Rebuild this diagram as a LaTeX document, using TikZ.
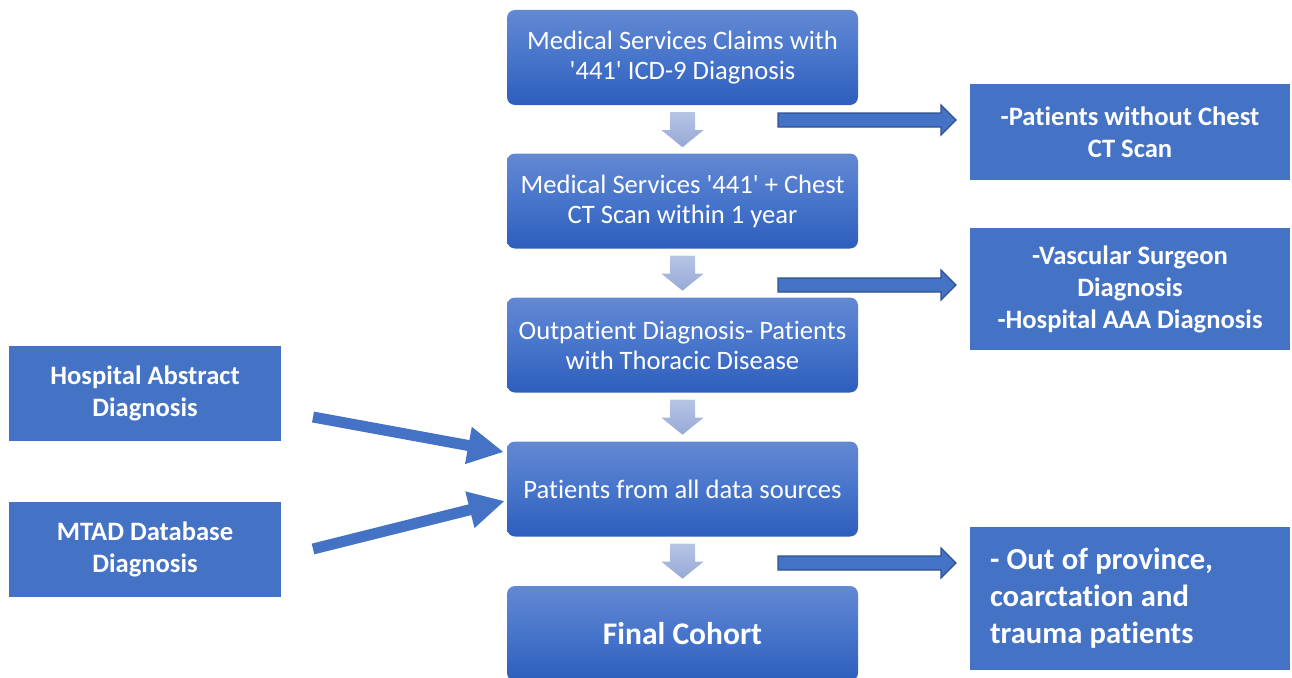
\documentclass[tikz,border=0pt]{standalone}
\usepackage{fontspec}
\setmainfont{Carlito}[Ligatures=NoCommon]
\usetikzlibrary{arrows.meta,calc}

\definecolor{flatblue}{HTML}{4472C4}
\definecolor{edgeblue}{HTML}{2F528F}
\definecolor{stepTop}{HTML}{6388D3}
\definecolor{stepMid}{HTML}{4775CB}
\definecolor{stepBot}{HTML}{2E5EBD}
\definecolor{chevTop}{HTML}{B6C4E5}
\definecolor{chevBot}{HTML}{97A8D6}

\newcommand{\tightspaces}{\spaceskip=0.24em\relax}

\begin{document}
\begin{tikzpicture}[x=1pt,y=-1pt,
  stepbox/.style={rounded corners=8pt, top color=stepTop, bottom color=stepBot,
    middle color=stepMid, minimum width=351pt, minimum height=95pt,
    text=white, align=center, inner sep=0pt,
    font=\fontsize{26.6}{30}\selectfont},
  sidebox/.style={fill=flatblue, minimum width=320pt, text=white, align=center,
    inner sep=0pt, font=\bfseries\fontsize{26.6}{32}\selectfont},
  srcbox/.style={fill=flatblue, minimum width=272pt, minimum height=95pt,
    text=white, align=center, inner sep=0pt,
    font=\bfseries\fontsize{26.6}{32}\selectfont},
  fatarrow/.style={draw=flatblue, line width=11pt,
    -{Triangle[length=36pt,width=35pt]}},
  downchev/.pic={
    \path[top color=chevTop, bottom color=chevBot]
      (-12.5,0) -- (12.5,0) -- (12.5,18) -- (21,18) -- (0,35)
      -- (-21,18) -- (-12.5,18) -- cycle;
  },
  blockright/.pic={
    \draw[fill=flatblue, draw=edgeblue, line width=1.3pt, line join=miter]
      (0,-7) -- (163,-7) -- (163,-15) -- (178,0) -- (163,15)
      -- (163,7) -- (0,7) -- cycle;
  }]

\useasboundingbox (0,0) rectangle (1292,677);

% main flow
\node[stepbox] (b1) at (682.5,57.5)
  {Medical Services Claims with\\\textquotesingle441\textquotesingle\ ICD-9 Diagnosis};
\node[stepbox] (b2) at (682.5,201)
  {Medical Services \textquotesingle441\textquotesingle\ + Chest\\CT Scan within 1 year};
\node[stepbox] (b3) at (682.5,345)
  {Outpatient Diagnosis- Patients\\with Thoracic Disease};
\node[stepbox] (b4) at (682.5,489)
  {Patients from all data sources};
\node[stepbox, font=\bfseries\fontsize{31.5}{36}\selectfont] (b5) at (682.5,633.5)
  {Final Cohort};

% chevrons between the steps
\pic at ($(b1.south)+(0,7)$) {downchev};
\pic at ($(b2.south)+(0,7)$) {downchev};
\pic at ($(b3.south)+(0,7)$) {downchev};
\pic at ($(b4.south)+(0,7)$) {downchev};

% exclusions
\node[sidebox, minimum height=96pt] (ex1) at (1130,132)
  {-Patients without Chest\\CT Scan};
\node[sidebox, minimum height=122pt] (ex2) at (1130,289)
  {-Vascular Surgeon\\Diagnosis\\-Hospital AAA Diagnosis};
\node[sidebox, minimum height=143pt, align=left, text width=280pt,
  font=\bfseries\fontsize{30.6}{37}\selectfont] (ex3) at (1130,598.5)
  {\tightspaces - Out of province,\\coarctation and\\trauma patients};

\coordinate (x1) at (778,120);
\coordinate (x2) at (778,285);
\coordinate (x3) at (778,563);
\pic at (x1) {blockright};
\pic at (x2) {blockright};
\pic at (x3) {blockright};

% additional sources
\node[srcbox] (s1) at (145,393.5) {Hospital Abstract\\Diagnosis};
\node[srcbox] (s2) at (145,549.5) {MTAD Database\\Diagnosis};

\coordinate (t1) at (313,417);
\coordinate (t2) at (313,549);
\draw[fatarrow] (t1) -- ($(b4.west)+(-3,-37)$);
\draw[fatarrow] (t2) -- ($(b4.west)+(-2,12)$);

\end{tikzpicture}
\end{document}
